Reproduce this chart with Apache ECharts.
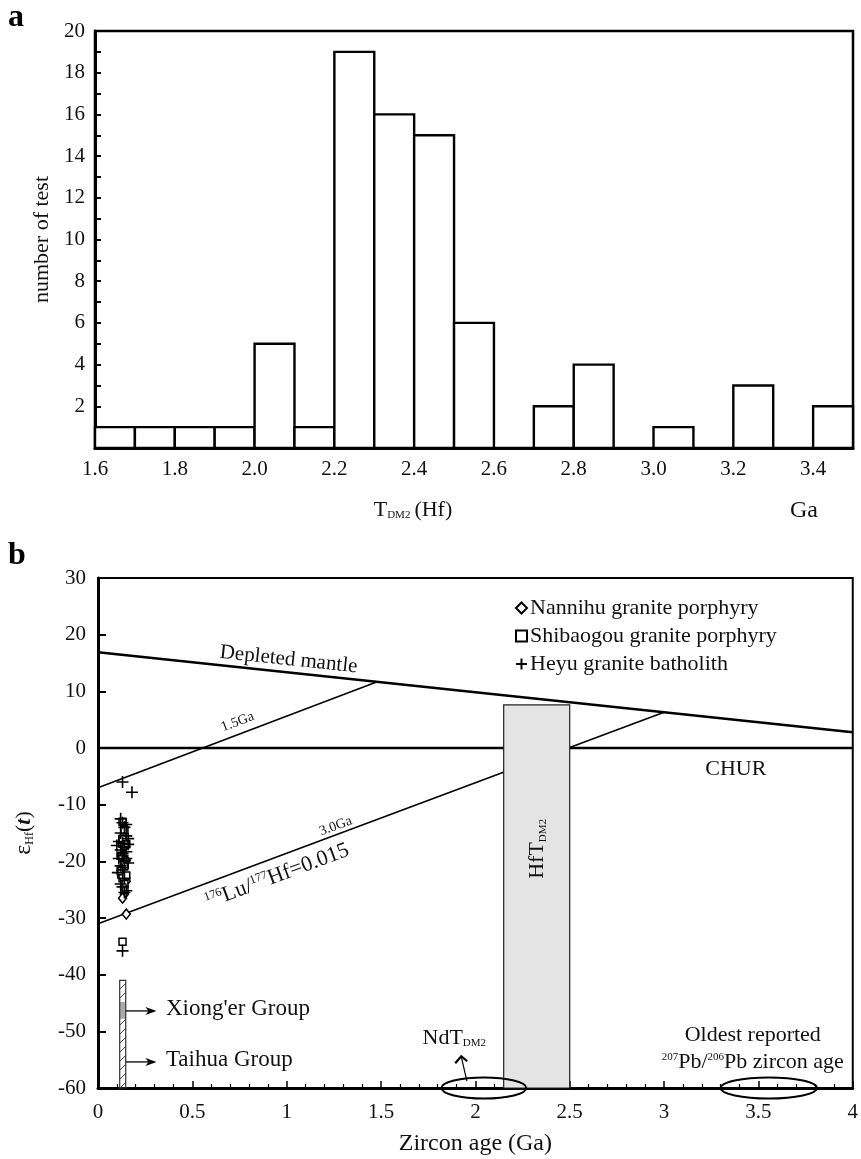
<!DOCTYPE html>
<html>
<head>
<meta charset="utf-8">
<script src="https://cdn.jsdelivr.net/npm/echarts@6/dist/echarts.min.js"></script>
<style>
html,body{margin:0;padding:0;background:#fff}
#main{width:861px;height:1159px}
</style>
</head>
<body>
<div id="main"></div>
<script>
var FONT = '"Liberation Serif", "Times New Roman", serif';

// ---- panel a : T_DM2(Hf) histogram ----
var binStart = [1.6, 1.7, 1.8, 1.9, 2.0, 2.1, 2.2, 2.3, 2.4, 2.5, 2.6, 2.7, 2.8, 2.9, 3.0, 3.1, 3.2, 3.3, 3.4];
var binCount = [1, 1, 1, 1, 5, 1, 19, 16, 15, 6, 0, 2, 4, 0, 1, 0, 3, 0, 2];
var binWidth = 0.1;

// ---- panel b : eHf(t) vs zircon age ----
var depletedMantle = [[0, 16.9], [4, 2.8]];
var chur = [[0, 0], [4, 0]];
var line15 = [[0, -7.0], [1.48, 11.7]];
var line30 = [[0, -31.0], [3.0, 6.3]];
var hfBox = [[2.15, 2.5, 7.6, -60]];
var groupBar = [[0.115, 0.147, -41, -60, -44.8, -47.8]];
var ndEllipse = [1.82, 2.27];
var oldestEllipse = [3.30, 3.81];

var nannihu = [[0.14, -14], [0.14, -17.5], [0.15, -19.8], [0.13, -21], [0.15, -23.5],
  [0.14, -25.8], [0.13, -26.5], [0.15, -29.3]];
var shibaogou = [[0.13, -13], [0.14, -14.5], [0.13, -16], [0.15, -17], [0.12, -19],
  [0.14, -20.5], [0.12, -21.7], [0.13, -23], [0.15, -22.5], [0.14, -24], [0.14, -25], [0.13, -34.2]];
var heyu = [[0.13, -6.0], [0.18, -7.8], [0.12, -12.5], [0.13, -13.2], [0.15, -13.5], [0.14, -14],
  [0.12, -15], [0.15, -15.5], [0.16, -16], [0.11, -16.5], [0.13, -16.8], [0.16, -17], [0.10, -17.2],
  [0.14, -17.5], [0.12, -18], [0.15, -18.3], [0.13, -18.6], [0.13, -19], [0.11, -19.5], [0.15, -19.5],
  [0.14, -20], [0.16, -20.3], [0.12, -20.8], [0.13, -21.5], [0.105, -22], [0.14, -23], [0.12, -24],
  [0.13, -24.5], [0.15, -25.2], [0.14, -25.5], [0.13, -35.8]];

var myChart = echarts.init(document.getElementById('main'));

var option = {
  animation: false,
  backgroundColor: '#fff',
  textStyle: { fontFamily: FONT },
  grid: [
    { left: 95, top: 31, width: 758, height: 417, show: true, borderColor: '#000', borderWidth: 2.5 },
    { left: 98, top: 578, width: 760, height: 510, show: true, borderColor: '#000', borderWidth: 2 }
  ],
  legend: {
    data: ['Nannihu granite porphyry', 'Shibaogou granite porphyry', 'Heyu granite batholith'],
    orient: 'vertical', left: 510, top: 592, itemWidth: 11, itemHeight: 11, itemGap: 6,
    selectedMode: false,
    textStyle: { fontFamily: FONT, fontSize: 22, color: '#111', padding: [0, 0, 0, -2] }
  },
  xAxis: [{
    type: 'value', gridIndex: 0, min: 1.6, max: 3.5, interval: 0.2,
    axisLine: { onZero: false, lineStyle: { color: '#000', width: 3 } },
    axisTick: { show: false }, splitLine: { show: false },
    axisLabel: { fontFamily: FONT, fontSize: 21, color: '#111', margin: 11, showMaxLabel: false,
      formatter: function (v) { return v.toFixed(1); } }
  }, {
    type: 'value', gridIndex: 1, min: 0, max: 4, interval: 0.5,
    axisLine: { onZero: false, lineStyle: { color: '#000', width: 3 } },
    axisTick: { inside: true, length: 7, lineStyle: { color: '#000', width: 1.5 } },
    minorTick: { show: true, splitNumber: 5, length: 4, lineStyle: { color: '#000', width: 1.2 } },
    splitLine: { show: false },
    axisLabel: { fontFamily: FONT, fontSize: 21, color: '#111', margin: 14 },
    name: 'Zircon age (Ga)', nameLocation: 'middle', nameGap: 44,
    nameTextStyle: { fontFamily: FONT, fontSize: 24, color: '#111' }
  }],
  yAxis: [{
    type: 'value', gridIndex: 0, min: 0, max: 20, interval: 2,
    axisLine: { onZero: false, lineStyle: { color: '#000', width: 3 } },
    axisTick: { inside: true, length: 6, lineStyle: { color: '#000', width: 2 } },
    minorTick: { show: true, splitNumber: 2, length: 6, lineStyle: { color: '#000', width: 2 } },
    splitLine: { show: false },
    axisLabel: { fontFamily: FONT, fontSize: 21, color: '#111', margin: 10, showMinLabel: false },
    name: 'number of test', nameLocation: 'middle', nameGap: 41, nameRotate: 90,
    nameTextStyle: { fontFamily: FONT, fontSize: 22, color: '#111' }
  }, {
    type: 'value', gridIndex: 1, min: -60, max: 30, interval: 10,
    axisLine: { onZero: false, lineStyle: { color: '#000', width: 3 } },
    axisTick: { inside: true, length: 8, lineStyle: { color: '#000', width: 2 } },
    splitLine: { show: false },
    axisLabel: { fontFamily: FONT, fontSize: 21, color: '#111', margin: 12 },
    name: '{e|ε}{s|Hf}{p|(}{t|t}{p|)}', nameLocation: 'middle', nameGap: 62, nameRotate: 90,
    nameTextStyle: { fontFamily: FONT, color: '#111',
      rich: {
        e: { fontFamily: FONT, fontSize: 24, color: '#111' },
        s: { fontFamily: FONT, fontSize: 12, color: '#111', padding: [12, 0, 0, 0] },
        p: { fontFamily: FONT, fontSize: 22, color: '#111' },
        t: { fontFamily: FONT, fontSize: 22, color: '#111', fontStyle: 'italic', fontWeight: 'bold' }
      } }
  }],
  series: [{
    type: 'custom', name: 'hist', xAxisIndex: 0, yAxisIndex: 0,
    data: binStart.map(function (s, i) { return [s, binCount[i]]; }),
    renderItem: function (params, api) {
      var x0 = api.value(0), v = api.value(1);
      if (!v) return null;
      var p0 = api.coord([x0, v]), p1 = api.coord([x0 + binWidth, 0]);
      return { type: 'rect', shape: { x: p0[0], y: p0[1], width: p1[0] - p0[0], height: p1[1] - p0[1] },
        style: { fill: '#fff', stroke: '#000', lineWidth: 2.4 } };
    }
  }, {
    type: 'line', name: 'chur', xAxisIndex: 1, yAxisIndex: 1, data: chur, showSymbol: false, z: 2,
    lineStyle: { color: '#000', width: 2.5 }
  }, {
    type: 'line', name: '1.5Ga', xAxisIndex: 1, yAxisIndex: 1, data: line15, showSymbol: false, z: 2,
    lineStyle: { color: '#000', width: 1.6 }
  }, {
    type: 'line', name: '3.0Ga', xAxisIndex: 1, yAxisIndex: 1, data: line30, showSymbol: false, z: 2,
    lineStyle: { color: '#000', width: 1.6 }
  }, {
    type: 'custom', name: 'hfbox', xAxisIndex: 1, yAxisIndex: 1, data: hfBox, z: 3,
    renderItem: function (params, api) {
      var a = api.coord([api.value(0), api.value(2)]), b = api.coord([api.value(1), api.value(3)]);
      return { type: 'rect', shape: { x: a[0], y: a[1], width: b[0] - a[0], height: b[1] - a[1] },
        style: { fill: '#e4e4e4', stroke: '#222', lineWidth: 1.2 } };
    }
  }, {
    type: 'line', name: 'dm', xAxisIndex: 1, yAxisIndex: 1, data: depletedMantle, showSymbol: false, z: 4,
    lineStyle: { color: '#000', width: 2.5 }
  }, {
    type: 'custom', name: 'groups', xAxisIndex: 1, yAxisIndex: 1, data: groupBar, z: 4,
    renderItem: function (params, api) {
      var a = api.coord([api.value(0), api.value(2)]), b = api.coord([api.value(1), api.value(3)]);
      var w = b[0] - a[0], h = b[1] - a[1];
      var ga = api.coord([api.value(0), api.value(4)])[1], gb = api.coord([api.value(0), api.value(5)])[1];
      var kids = [{ type: 'rect', shape: { x: a[0], y: ga, width: w, height: gb - ga }, style: { fill: '#aaa' } }];
      for (var yy = a[1] + 9; yy <= b[1] + 1; yy += 9) {
        if (yy > ga && yy - w < gb) continue;
        kids.push({ type: 'line', shape: { x1: a[0], y1: yy, x2: b[0], y2: yy - w },
          style: { stroke: '#444', lineWidth: 1 } });
      }
      kids.push({ type: 'rect', shape: { x: a[0], y: a[1], width: w, height: h },
        style: { fill: 'none', stroke: '#333', lineWidth: 1.2 } });
      return { type: 'group', children: kids };
    }
  }, {
    type: 'scatter', name: 'Nannihu granite porphyry', xAxisIndex: 1, yAxisIndex: 1, data: nannihu, z: 5,
    symbol: 'diamond', symbolSize: [8, 10],
    itemStyle: { color: '#fff', borderColor: '#000', borderWidth: 1.5, opacity: 1 }
  }, {
    type: 'scatter', name: 'Shibaogou granite porphyry', xAxisIndex: 1, yAxisIndex: 1, data: shibaogou, z: 5,
    symbol: 'rect', symbolSize: 7,
    itemStyle: { color: '#fff', borderColor: '#000', borderWidth: 1.5, opacity: 1 }
  }, {
    type: 'scatter', name: 'Heyu granite batholith', xAxisIndex: 1, yAxisIndex: 1, data: heyu, z: 6,
    symbol: 'path://M0,5L10,5M5,0L5,10', symbolSize: 12,
    itemStyle: { color: 'transparent', borderColor: '#000', borderWidth: 1.6, opacity: 1 }
  }]
};
myChart.setOption(option);

function px(x, y) { return myChart.convertToPixel({ gridIndex: 1 }, [x, y]); }
function slope(line) {
  var p0 = px(line[0][0], line[0][1]), p1 = px(line[1][0], line[1][1]);
  return Math.atan2(p0[1] - p1[1], p1[0] - p0[0]);
}
function txt(pos, text, size, rot, extra) {
  var st = { text: text, fontFamily: FONT, fontSize: size, fill: '#111', align: 'center', verticalAlign: 'middle' };
  for (var k in extra) st[k] = extra[k];
  return { type: 'text', x: pos[0], y: pos[1], rotation: rot || 0, style: st, z: 10 };
}

var g = [];
// panel letters and panel a axis titles
g.push({ type: 'text', left: 8, top: 2, style: { text: 'a', fontFamily: FONT, fontSize: 32, fontWeight: 'bold', fill: '#000' } });
g.push({ type: 'text', left: 8, top: 540, style: { text: 'b', fontFamily: FONT, fontSize: 32, fontWeight: 'bold', fill: '#000' } });
g.push(txt([413, 510], '{b|T}{s|DM2}{b|(Hf)}', 22, 0, { rich: {
  b: { fontFamily: FONT, fontSize: 22, fill: '#111' },
  s: { fontFamily: FONT, fontSize: 11, fill: '#111', padding: [10, 4, 0, 0] } } }));
g.push(txt([804, 511], 'Ga', 24, 0));

// panel b annotations
g.push(txt(px(1.01, 15.6), 'Depleted mantle', 21, slope(depletedMantle)));
g.push(txt(px(0.74, 4.6), '1.5Ga', 14, slope(line15)));
g.push(txt(px(1.26, -13.8), '3.0Ga', 14, slope(line30)));
g.push(txt(px(0.95, -22.6), '{s|176}{b|Lu/}{s|177}{b|Hf=0.015}', 22, slope(line30), { rich: {
  b: { fontFamily: FONT, fontSize: 22, fill: '#111' },
  s: { fontFamily: FONT, fontSize: 12, fill: '#111', padding: [0, 0, 10, 0] } } }));
g.push(txt(px(3.38, -3.7), 'CHUR', 22, 0));
g.push(txt(px(2.33, -17.8), '{b|HfT}{s|DM2}', 22, Math.PI / 2, { rich: {
  b: { fontFamily: FONT, fontSize: 22, fill: '#111' },
  s: { fontFamily: FONT, fontSize: 11, fill: '#111', padding: [10, 0, 0, 0] } } }));

// group arrows
function arrow(y, label) {
  var a = px(groupBar[0][1], y), tip = px(0.31, y);
  g.push({ type: 'line', shape: { x1: a[0], y1: a[1], x2: tip[0] - 6, y2: tip[1] }, style: { stroke: '#000', lineWidth: 1.3 }, z: 10 });
  g.push({ type: 'polygon', shape: { points: [[tip[0], tip[1]], [tip[0] - 11, tip[1] - 4], [tip[0] - 8, tip[1]], [tip[0] - 11, tip[1] + 4]] }, style: { fill: '#000' }, z: 10 });
  g.push(txt(px(0.36, y + 0.3), label, 23, 0, { align: 'left' }));
}
arrow(-46.4, "Xiong'er Group");
arrow(-55.4, 'Taihua Group');

// ellipses
function ell(range, y) {
  var l = px(range[0], y), r = px(range[1], y);
  g.push({ type: 'ellipse', shape: { cx: (l[0] + r[0]) / 2, cy: l[1], rx: (r[0] - l[0]) / 2, ry: 10.5 },
    style: { fill: 'none', stroke: '#000', lineWidth: 2 }, z: 10 });
}
ell(ndEllipse, -60);
ell(oldestEllipse, -60);

// NdT_DM2 label and arrow
g.push(txt(px(1.72, -51.2), '{b|NdT}{s|DM2}', 22, 0, { align: 'left', rich: {
  b: { fontFamily: FONT, fontSize: 22, fill: '#111' },
  s: { fontFamily: FONT, fontSize: 11, fill: '#111', padding: [10, 0, 0, 0] } } }));
var nb = px(1.955, -58.8), nt = px(1.925, -54.4);
g.push({ type: 'line', shape: { x1: nb[0], y1: nb[1], x2: nt[0], y2: nt[1] }, style: { stroke: '#000', lineWidth: 1.2 }, z: 10 });
g.push({ type: 'polyline', shape: { points: [[nt[0] - 6, nt[1] + 7], [nt[0], nt[1]], [nt[0] + 6, nt[1] + 5]] }, style: { stroke: '#000', lineWidth: 2.2, fill: 'none' }, z: 10 });

// oldest age label
g.push(txt(px(3.47, -50.6), 'Oldest reported', 22, 0));
g.push(txt(px(3.47, -55.4), '{s|207}{b|Pb/}{s|206}{b|Pb zircon age}', 22, 0, { rich: {
  b: { fontFamily: FONT, fontSize: 22, fill: '#111' },
  s: { fontFamily: FONT, fontSize: 11, fill: '#111', padding: [0, 0, 10, 0] } } }));

myChart.setOption({ graphic: g });
</script>
</body>
</html>
